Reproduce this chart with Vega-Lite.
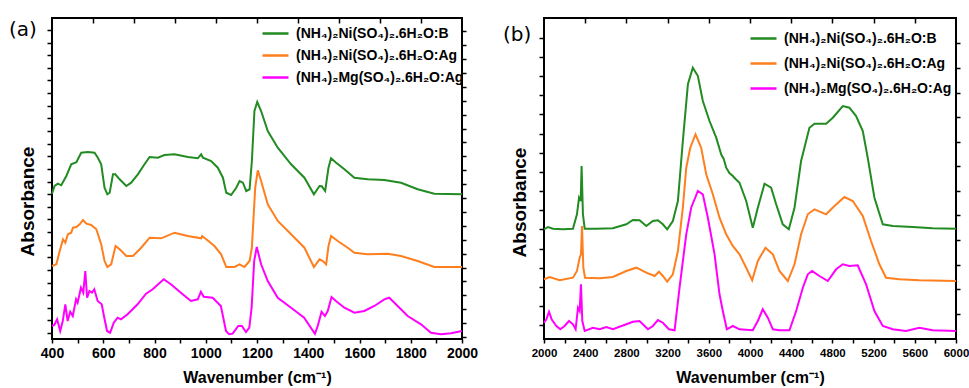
{
 "$schema": "https://vega.github.io/schema/vega-lite/v6.json",
 "background": "white",
 "padding": {"left": 8, "top": 16, "right": 4, "bottom": 0},
 "bounds": "flush",
 "spacing": 82,
 "config": {
  "view": {"stroke": "black", "strokeWidth": 2},
  "axis": {"grid": false, "domain": false, "tickColor": "black", "tickWidth": 1.5, "labelColor": "black", "titleColor": "black", "labelFont": "Liberation Sans", "labelFontWeight": "bold", "titleFont": "Liberation Sans", "titleFontWeight": "bold", "labelOverlap": false, "labelFlush": false},
  "legend": {"orient": "none", "title": null, "symbolType": "stroke", "symbolSize": 676, "symbolStrokeWidth": 2.5, "labelFontSize": 14, "labelFont": "Liberation Sans", "labelFontWeight": "bold", "labelColor": "black", "labelOffset": 6, "rowPadding": 0, "padding": 0, "labelLimit": 400}
 },
 "datasets": {
  "a": [
   {"s":"(NH₄)₂Ni(SO₄)₂.6H₂O:B","x":400,"y":1.453},{"s":"(NH₄)₂Ni(SO₄)₂.6H₂O:B","x":410,"y":1.53},{"s":"(NH₄)₂Ni(SO₄)₂.6H₂O:B","x":423,"y":1.553},{"s":"(NH₄)₂Ni(SO₄)₂.6H₂O:B","x":436,"y":1.537},{"s":"(NH₄)₂Ni(SO₄)₂.6H₂O:B","x":456,"y":1.63},{"s":"(NH₄)₂Ni(SO₄)₂.6H₂O:B","x":475,"y":1.747},{"s":"(NH₄)₂Ni(SO₄)₂.6H₂O:B","x":495,"y":1.767},{"s":"(NH₄)₂Ni(SO₄)₂.6H₂O:B","x":514,"y":1.863},{"s":"(NH₄)₂Ni(SO₄)₂.6H₂O:B","x":540,"y":1.87},{"s":"(NH₄)₂Ni(SO₄)₂.6H₂O:B","x":566,"y":1.863},{"s":"(NH₄)₂Ni(SO₄)₂.6H₂O:B","x":579,"y":1.813},{"s":"(NH₄)₂Ni(SO₄)₂.6H₂O:B","x":592,"y":1.747},{"s":"(NH₄)₂Ni(SO₄)₂.6H₂O:B","x":605,"y":1.513},{"s":"(NH₄)₂Ni(SO₄)₂.6H₂O:B","x":616,"y":1.447},{"s":"(NH₄)₂Ni(SO₄)₂.6H₂O:B","x":625,"y":1.463},{"s":"(NH₄)₂Ni(SO₄)₂.6H₂O:B","x":638,"y":1.647},{"s":"(NH₄)₂Ni(SO₄)₂.6H₂O:B","x":647,"y":1.647},{"s":"(NH₄)₂Ni(SO₄)₂.6H₂O:B","x":664,"y":1.597},{"s":"(NH₄)₂Ni(SO₄)₂.6H₂O:B","x":690,"y":1.53},{"s":"(NH₄)₂Ni(SO₄)₂.6H₂O:B","x":709,"y":1.563},{"s":"(NH₄)₂Ni(SO₄)₂.6H₂O:B","x":735,"y":1.647},{"s":"(NH₄)₂Ni(SO₄)₂.6H₂O:B","x":761,"y":1.747},{"s":"(NH₄)₂Ni(SO₄)₂.6H₂O:B","x":781,"y":1.82},{"s":"(NH₄)₂Ni(SO₄)₂.6H₂O:B","x":813,"y":1.813},{"s":"(NH₄)₂Ni(SO₄)₂.6H₂O:B","x":839,"y":1.84},{"s":"(NH₄)₂Ni(SO₄)₂.6H₂O:B","x":878,"y":1.847},{"s":"(NH₄)₂Ni(SO₄)₂.6H₂O:B","x":930,"y":1.82},{"s":"(NH₄)₂Ni(SO₄)₂.6H₂O:B","x":969,"y":1.807},{"s":"(NH₄)₂Ni(SO₄)₂.6H₂O:B","x":982,"y":1.847},{"s":"(NH₄)₂Ni(SO₄)₂.6H₂O:B","x":989,"y":1.813},{"s":"(NH₄)₂Ni(SO₄)₂.6H₂O:B","x":1021,"y":1.78},{"s":"(NH₄)₂Ni(SO₄)₂.6H₂O:B","x":1047,"y":1.713},{"s":"(NH₄)₂Ni(SO₄)₂.6H₂O:B","x":1067,"y":1.613},{"s":"(NH₄)₂Ni(SO₄)₂.6H₂O:B","x":1080,"y":1.463},{"s":"(NH₄)₂Ni(SO₄)₂.6H₂O:B","x":1099,"y":1.44},{"s":"(NH₄)₂Ni(SO₄)₂.6H₂O:B","x":1119,"y":1.513},{"s":"(NH₄)₂Ni(SO₄)₂.6H₂O:B","x":1132,"y":1.58},{"s":"(NH₄)₂Ni(SO₄)₂.6H₂O:B","x":1145,"y":1.563},{"s":"(NH₄)₂Ni(SO₄)₂.6H₂O:B","x":1158,"y":1.48},{"s":"(NH₄)₂Ni(SO₄)₂.6H₂O:B","x":1171,"y":1.497},{"s":"(NH₄)₂Ni(SO₄)₂.6H₂O:B","x":1180,"y":1.78},{"s":"(NH₄)₂Ni(SO₄)₂.6H₂O:B","x":1190,"y":2.28},{"s":"(NH₄)₂Ni(SO₄)₂.6H₂O:B","x":1201,"y":2.37},{"s":"(NH₄)₂Ni(SO₄)₂.6H₂O:B","x":1216,"y":2.28},{"s":"(NH₄)₂Ni(SO₄)₂.6H₂O:B","x":1242,"y":2.08},{"s":"(NH₄)₂Ni(SO₄)₂.6H₂O:B","x":1281,"y":1.913},{"s":"(NH₄)₂Ni(SO₄)₂.6H₂O:B","x":1333,"y":1.747},{"s":"(NH₄)₂Ni(SO₄)₂.6H₂O:B","x":1385,"y":1.613},{"s":"(NH₄)₂Ni(SO₄)₂.6H₂O:B","x":1422,"y":1.447},{"s":"(NH₄)₂Ni(SO₄)₂.6H₂O:B","x":1444,"y":1.53},{"s":"(NH₄)₂Ni(SO₄)₂.6H₂O:B","x":1453,"y":1.527},{"s":"(NH₄)₂Ni(SO₄)₂.6H₂O:B","x":1466,"y":1.48},{"s":"(NH₄)₂Ni(SO₄)₂.6H₂O:B","x":1479,"y":1.713},{"s":"(NH₄)₂Ni(SO₄)₂.6H₂O:B","x":1489,"y":1.807},{"s":"(NH₄)₂Ni(SO₄)₂.6H₂O:B","x":1509,"y":1.763},{"s":"(NH₄)₂Ni(SO₄)₂.6H₂O:B","x":1541,"y":1.697},{"s":"(NH₄)₂Ni(SO₄)₂.6H₂O:B","x":1580,"y":1.613},{"s":"(NH₄)₂Ni(SO₄)₂.6H₂O:B","x":1632,"y":1.597},{"s":"(NH₄)₂Ni(SO₄)₂.6H₂O:B","x":1697,"y":1.59},{"s":"(NH₄)₂Ni(SO₄)₂.6H₂O:B","x":1762,"y":1.563},{"s":"(NH₄)₂Ni(SO₄)₂.6H₂O:B","x":1827,"y":1.497},{"s":"(NH₄)₂Ni(SO₄)₂.6H₂O:B","x":1892,"y":1.453},{"s":"(NH₄)₂Ni(SO₄)₂.6H₂O:B","x":2000,"y":1.447},
   {"s":"(NH₄)₂Ni(SO₄)₂.6H₂O:Ag","x":400,"y":0.73},{"s":"(NH₄)₂Ni(SO₄)₂.6H₂O:Ag","x":417,"y":0.747},{"s":"(NH₄)₂Ni(SO₄)₂.6H₂O:Ag","x":430,"y":0.88},{"s":"(NH₄)₂Ni(SO₄)₂.6H₂O:Ag","x":443,"y":0.997},{"s":"(NH₄)₂Ni(SO₄)₂.6H₂O:Ag","x":452,"y":0.963},{"s":"(NH₄)₂Ni(SO₄)₂.6H₂O:Ag","x":462,"y":1.047},{"s":"(NH₄)₂Ni(SO₄)₂.6H₂O:Ag","x":475,"y":1.063},{"s":"(NH₄)₂Ni(SO₄)₂.6H₂O:Ag","x":482,"y":1.113},{"s":"(NH₄)₂Ni(SO₄)₂.6H₂O:Ag","x":495,"y":1.12},{"s":"(NH₄)₂Ni(SO₄)₂.6H₂O:Ag","x":508,"y":1.147},{"s":"(NH₄)₂Ni(SO₄)₂.6H₂O:Ag","x":521,"y":1.19},{"s":"(NH₄)₂Ni(SO₄)₂.6H₂O:Ag","x":534,"y":1.153},{"s":"(NH₄)₂Ni(SO₄)₂.6H₂O:Ag","x":553,"y":1.14},{"s":"(NH₄)₂Ni(SO₄)₂.6H₂O:Ag","x":573,"y":1.097},{"s":"(NH₄)₂Ni(SO₄)₂.6H₂O:Ag","x":592,"y":0.947},{"s":"(NH₄)₂Ni(SO₄)₂.6H₂O:Ag","x":605,"y":0.78},{"s":"(NH₄)₂Ni(SO₄)₂.6H₂O:Ag","x":616,"y":0.72},{"s":"(NH₄)₂Ni(SO₄)₂.6H₂O:Ag","x":631,"y":0.747},{"s":"(NH₄)₂Ni(SO₄)₂.6H₂O:Ag","x":648,"y":0.93},{"s":"(NH₄)₂Ni(SO₄)₂.6H₂O:Ag","x":664,"y":0.897},{"s":"(NH₄)₂Ni(SO₄)₂.6H₂O:Ag","x":690,"y":0.83},{"s":"(NH₄)₂Ni(SO₄)₂.6H₂O:Ag","x":716,"y":0.83},{"s":"(NH₄)₂Ni(SO₄)₂.6H₂O:Ag","x":748,"y":0.913},{"s":"(NH₄)₂Ni(SO₄)₂.6H₂O:Ag","x":781,"y":1.013},{"s":"(NH₄)₂Ni(SO₄)₂.6H₂O:Ag","x":826,"y":1.007},{"s":"(NH₄)₂Ni(SO₄)₂.6H₂O:Ag","x":878,"y":1.063},{"s":"(NH₄)₂Ni(SO₄)₂.6H₂O:Ag","x":930,"y":1.03},{"s":"(NH₄)₂Ni(SO₄)₂.6H₂O:Ag","x":982,"y":1.007},{"s":"(NH₄)₂Ni(SO₄)₂.6H₂O:Ag","x":986,"y":1.03},{"s":"(NH₄)₂Ni(SO₄)₂.6H₂O:Ag","x":1002,"y":0.997},{"s":"(NH₄)₂Ni(SO₄)₂.6H₂O:Ag","x":1034,"y":0.93},{"s":"(NH₄)₂Ni(SO₄)₂.6H₂O:Ag","x":1060,"y":0.847},{"s":"(NH₄)₂Ni(SO₄)₂.6H₂O:Ag","x":1080,"y":0.72},{"s":"(NH₄)₂Ni(SO₄)₂.6H₂O:Ag","x":1112,"y":0.72},{"s":"(NH₄)₂Ni(SO₄)₂.6H₂O:Ag","x":1132,"y":0.747},{"s":"(NH₄)₂Ni(SO₄)₂.6H₂O:Ag","x":1151,"y":0.72},{"s":"(NH₄)₂Ni(SO₄)₂.6H₂O:Ag","x":1171,"y":0.78},{"s":"(NH₄)₂Ni(SO₄)₂.6H₂O:Ag","x":1180,"y":0.913},{"s":"(NH₄)₂Ni(SO₄)₂.6H₂O:Ag","x":1193,"y":1.513},{"s":"(NH₄)₂Ni(SO₄)₂.6H₂O:Ag","x":1203,"y":1.687},{"s":"(NH₄)₂Ni(SO₄)₂.6H₂O:Ag","x":1216,"y":1.58},{"s":"(NH₄)₂Ni(SO₄)₂.6H₂O:Ag","x":1242,"y":1.347},{"s":"(NH₄)₂Ni(SO₄)₂.6H₂O:Ag","x":1281,"y":1.18},{"s":"(NH₄)₂Ni(SO₄)₂.6H₂O:Ag","x":1333,"y":1.047},{"s":"(NH₄)₂Ni(SO₄)₂.6H₂O:Ag","x":1385,"y":0.913},{"s":"(NH₄)₂Ni(SO₄)₂.6H₂O:Ag","x":1422,"y":0.72},{"s":"(NH₄)₂Ni(SO₄)₂.6H₂O:Ag","x":1444,"y":0.797},{"s":"(NH₄)₂Ni(SO₄)₂.6H₂O:Ag","x":1457,"y":0.78},{"s":"(NH₄)₂Ni(SO₄)₂.6H₂O:Ag","x":1470,"y":0.747},{"s":"(NH₄)₂Ni(SO₄)₂.6H₂O:Ag","x":1479,"y":0.93},{"s":"(NH₄)₂Ni(SO₄)₂.6H₂O:Ag","x":1489,"y":1.03},{"s":"(NH₄)₂Ni(SO₄)₂.6H₂O:Ag","x":1515,"y":0.98},{"s":"(NH₄)₂Ni(SO₄)₂.6H₂O:Ag","x":1554,"y":0.913},{"s":"(NH₄)₂Ni(SO₄)₂.6H₂O:Ag","x":1580,"y":0.863},{"s":"(NH₄)₂Ni(SO₄)₂.6H₂O:Ag","x":1632,"y":0.847},{"s":"(NH₄)₂Ni(SO₄)₂.6H₂O:Ag","x":1710,"y":0.853},{"s":"(NH₄)₂Ni(SO₄)₂.6H₂O:Ag","x":1762,"y":0.83},{"s":"(NH₄)₂Ni(SO₄)₂.6H₂O:Ag","x":1827,"y":0.78},{"s":"(NH₄)₂Ni(SO₄)₂.6H₂O:Ag","x":1892,"y":0.72},{"s":"(NH₄)₂Ni(SO₄)₂.6H₂O:Ag","x":2000,"y":0.72},
   {"s":"(NH₄)₂Mg(SO₄)₂.6H₂O:Ag","x":400,"y":0.13},{"s":"(NH₄)₂Mg(SO₄)₂.6H₂O:Ag","x":409,"y":0.14},{"s":"(NH₄)₂Mg(SO₄)₂.6H₂O:Ag","x":420,"y":0.197},{"s":"(NH₄)₂Mg(SO₄)₂.6H₂O:Ag","x":432,"y":0.08},{"s":"(NH₄)₂Mg(SO₄)₂.6H₂O:Ag","x":442,"y":0.18},{"s":"(NH₄)₂Mg(SO₄)₂.6H₂O:Ag","x":452,"y":0.347},{"s":"(NH₄)₂Mg(SO₄)₂.6H₂O:Ag","x":461,"y":0.18},{"s":"(NH₄)₂Mg(SO₄)₂.6H₂O:Ag","x":471,"y":0.273},{"s":"(NH₄)₂Mg(SO₄)₂.6H₂O:Ag","x":481,"y":0.23},{"s":"(NH₄)₂Mg(SO₄)₂.6H₂O:Ag","x":494,"y":0.397},{"s":"(NH₄)₂Mg(SO₄)₂.6H₂O:Ag","x":500,"y":0.363},{"s":"(NH₄)₂Mg(SO₄)₂.6H₂O:Ag","x":513,"y":0.513},{"s":"(NH₄)₂Mg(SO₄)₂.6H₂O:Ag","x":522,"y":0.463},{"s":"(NH₄)₂Mg(SO₄)₂.6H₂O:Ag","x":530,"y":0.68},{"s":"(NH₄)₂Mg(SO₄)₂.6H₂O:Ag","x":537,"y":0.413},{"s":"(NH₄)₂Mg(SO₄)₂.6H₂O:Ag","x":546,"y":0.48},{"s":"(NH₄)₂Mg(SO₄)₂.6H₂O:Ag","x":556,"y":0.463},{"s":"(NH₄)₂Mg(SO₄)₂.6H₂O:Ag","x":565,"y":0.497},{"s":"(NH₄)₂Mg(SO₄)₂.6H₂O:Ag","x":578,"y":0.38},{"s":"(NH₄)₂Mg(SO₄)₂.6H₂O:Ag","x":594,"y":0.347},{"s":"(NH₄)₂Mg(SO₄)₂.6H₂O:Ag","x":604,"y":0.213},{"s":"(NH₄)₂Mg(SO₄)₂.6H₂O:Ag","x":615,"y":0.08},{"s":"(NH₄)₂Mg(SO₄)₂.6H₂O:Ag","x":627,"y":0.063},{"s":"(NH₄)₂Mg(SO₄)₂.6H₂O:Ag","x":641,"y":0.163},{"s":"(NH₄)₂Mg(SO₄)₂.6H₂O:Ag","x":656,"y":0.213},{"s":"(NH₄)₂Mg(SO₄)₂.6H₂O:Ag","x":669,"y":0.197},{"s":"(NH₄)₂Mg(SO₄)₂.6H₂O:Ag","x":695,"y":0.247},{"s":"(NH₄)₂Mg(SO₄)₂.6H₂O:Ag","x":734,"y":0.347},{"s":"(NH₄)₂Mg(SO₄)₂.6H₂O:Ag","x":767,"y":0.453},{"s":"(NH₄)₂Mg(SO₄)₂.6H₂O:Ag","x":793,"y":0.497},{"s":"(NH₄)₂Mg(SO₄)₂.6H₂O:Ag","x":836,"y":0.597},{"s":"(NH₄)₂Mg(SO₄)₂.6H₂O:Ag","x":864,"y":0.547},{"s":"(NH₄)₂Mg(SO₄)₂.6H₂O:Ag","x":903,"y":0.463},{"s":"(NH₄)₂Mg(SO₄)₂.6H₂O:Ag","x":942,"y":0.38},{"s":"(NH₄)₂Mg(SO₄)₂.6H₂O:Ag","x":969,"y":0.397},{"s":"(NH₄)₂Mg(SO₄)₂.6H₂O:Ag","x":981,"y":0.473},{"s":"(NH₄)₂Mg(SO₄)₂.6H₂O:Ag","x":992,"y":0.423},{"s":"(NH₄)₂Mg(SO₄)₂.6H₂O:Ag","x":1027,"y":0.413},{"s":"(NH₄)₂Mg(SO₄)₂.6H₂O:Ag","x":1059,"y":0.33},{"s":"(NH₄)₂Mg(SO₄)₂.6H₂O:Ag","x":1079,"y":0.08},{"s":"(NH₄)₂Mg(SO₄)₂.6H₂O:Ag","x":1091,"y":0.047},{"s":"(NH₄)₂Mg(SO₄)₂.6H₂O:Ag","x":1105,"y":0.053},{"s":"(NH₄)₂Mg(SO₄)₂.6H₂O:Ag","x":1127,"y":0.13},{"s":"(NH₄)₂Mg(SO₄)₂.6H₂O:Ag","x":1141,"y":0.13},{"s":"(NH₄)₂Mg(SO₄)₂.6H₂O:Ag","x":1157,"y":0.07},{"s":"(NH₄)₂Mg(SO₄)₂.6H₂O:Ag","x":1170,"y":0.113},{"s":"(NH₄)₂Mg(SO₄)₂.6H₂O:Ag","x":1179,"y":0.313},{"s":"(NH₄)₂Mg(SO₄)₂.6H₂O:Ag","x":1189,"y":0.78},{"s":"(NH₄)₂Mg(SO₄)₂.6H₂O:Ag","x":1199,"y":0.92},{"s":"(NH₄)₂Mg(SO₄)₂.6H₂O:Ag","x":1216,"y":0.747},{"s":"(NH₄)₂Mg(SO₄)₂.6H₂O:Ag","x":1242,"y":0.58},{"s":"(NH₄)₂Mg(SO₄)₂.6H₂O:Ag","x":1281,"y":0.413},{"s":"(NH₄)₂Mg(SO₄)₂.6H₂O:Ag","x":1333,"y":0.313},{"s":"(NH₄)₂Mg(SO₄)₂.6H₂O:Ag","x":1384,"y":0.213},{"s":"(NH₄)₂Mg(SO₄)₂.6H₂O:Ag","x":1426,"y":0.053},{"s":"(NH₄)₂Mg(SO₄)₂.6H₂O:Ag","x":1437,"y":0.13},{"s":"(NH₄)₂Mg(SO₄)₂.6H₂O:Ag","x":1452,"y":0.273},{"s":"(NH₄)₂Mg(SO₄)₂.6H₂O:Ag","x":1465,"y":0.23},{"s":"(NH₄)₂Mg(SO₄)₂.6H₂O:Ag","x":1476,"y":0.28},{"s":"(NH₄)₂Mg(SO₄)₂.6H₂O:Ag","x":1491,"y":0.42},{"s":"(NH₄)₂Mg(SO₄)₂.6H₂O:Ag","x":1508,"y":0.38},{"s":"(NH₄)₂Mg(SO₄)₂.6H₂O:Ag","x":1541,"y":0.313},{"s":"(NH₄)₂Mg(SO₄)₂.6H₂O:Ag","x":1580,"y":0.263},{"s":"(NH₄)₂Mg(SO₄)₂.6H₂O:Ag","x":1619,"y":0.28},{"s":"(NH₄)₂Mg(SO₄)₂.6H₂O:Ag","x":1658,"y":0.33},{"s":"(NH₄)₂Mg(SO₄)₂.6H₂O:Ag","x":1697,"y":0.397},{"s":"(NH₄)₂Mg(SO₄)₂.6H₂O:Ag","x":1716,"y":0.413},{"s":"(NH₄)₂Mg(SO₄)₂.6H₂O:Ag","x":1736,"y":0.363},{"s":"(NH₄)₂Mg(SO₄)₂.6H₂O:Ag","x":1788,"y":0.23},{"s":"(NH₄)₂Mg(SO₄)₂.6H₂O:Ag","x":1840,"y":0.147},{"s":"(NH₄)₂Mg(SO₄)₂.6H₂O:Ag","x":1879,"y":0.063},{"s":"(NH₄)₂Mg(SO₄)₂.6H₂O:Ag","x":1918,"y":0.047},{"s":"(NH₄)₂Mg(SO₄)₂.6H₂O:Ag","x":1957,"y":0.057},{"s":"(NH₄)₂Mg(SO₄)₂.6H₂O:Ag","x":2000,"y":0.08}
  ],
  "b": [
   {"s":"(NH₄)₂Ni(SO₄)₂.6H₂O:B","x":2000,"y":1.097},{"s":"(NH₄)₂Ni(SO₄)₂.6H₂O:B","x":2039,"y":1.12},{"s":"(NH₄)₂Ni(SO₄)₂.6H₂O:B","x":2087,"y":1.103},{"s":"(NH₄)₂Ni(SO₄)₂.6H₂O:B","x":2184,"y":1.097},{"s":"(NH₄)₂Ni(SO₄)₂.6H₂O:B","x":2281,"y":1.103},{"s":"(NH₄)₂Ni(SO₄)₂.6H₂O:B","x":2320,"y":1.247},{"s":"(NH₄)₂Ni(SO₄)₂.6H₂O:B","x":2340,"y":1.413},{"s":"(NH₄)₂Ni(SO₄)₂.6H₂O:B","x":2356,"y":1.38},{"s":"(NH₄)₂Ni(SO₄)₂.6H₂O:B","x":2365,"y":1.73},{"s":"(NH₄)₂Ni(SO₄)₂.6H₂O:B","x":2378,"y":1.247},{"s":"(NH₄)₂Ni(SO₄)₂.6H₂O:B","x":2395,"y":1.103},{"s":"(NH₄)₂Ni(SO₄)₂.6H₂O:B","x":2508,"y":1.103},{"s":"(NH₄)₂Ni(SO₄)₂.6H₂O:B","x":2669,"y":1.107},{"s":"(NH₄)₂Ni(SO₄)₂.6H₂O:B","x":2799,"y":1.147},{"s":"(NH₄)₂Ni(SO₄)₂.6H₂O:B","x":2863,"y":1.19},{"s":"(NH₄)₂Ni(SO₄)₂.6H₂O:B","x":2928,"y":1.187},{"s":"(NH₄)₂Ni(SO₄)₂.6H₂O:B","x":2993,"y":1.13},{"s":"(NH₄)₂Ni(SO₄)₂.6H₂O:B","x":3057,"y":1.18},{"s":"(NH₄)₂Ni(SO₄)₂.6H₂O:B","x":3106,"y":1.187},{"s":"(NH₄)₂Ni(SO₄)₂.6H₂O:B","x":3154,"y":1.147},{"s":"(NH₄)₂Ni(SO₄)₂.6H₂O:B","x":3196,"y":1.097},{"s":"(NH₄)₂Ni(SO₄)₂.6H₂O:B","x":3251,"y":1.18},{"s":"(NH₄)₂Ni(SO₄)₂.6H₂O:B","x":3300,"y":1.38},{"s":"(NH₄)₂Ni(SO₄)₂.6H₂O:B","x":3348,"y":1.98},{"s":"(NH₄)₂Ni(SO₄)₂.6H₂O:B","x":3397,"y":2.547},{"s":"(NH₄)₂Ni(SO₄)₂.6H₂O:B","x":3445,"y":2.713},{"s":"(NH₄)₂Ni(SO₄)₂.6H₂O:B","x":3494,"y":2.63},{"s":"(NH₄)₂Ni(SO₄)₂.6H₂O:B","x":3542,"y":2.38},{"s":"(NH₄)₂Ni(SO₄)₂.6H₂O:B","x":3607,"y":2.18},{"s":"(NH₄)₂Ni(SO₄)₂.6H₂O:B","x":3672,"y":2.013},{"s":"(NH₄)₂Ni(SO₄)₂.6H₂O:B","x":3720,"y":1.847},{"s":"(NH₄)₂Ni(SO₄)₂.6H₂O:B","x":3745,"y":1.8},{"s":"(NH₄)₂Ni(SO₄)₂.6H₂O:B","x":3769,"y":1.713},{"s":"(NH₄)₂Ni(SO₄)₂.6H₂O:B","x":3800,"y":1.66},{"s":"(NH₄)₂Ni(SO₄)₂.6H₂O:B","x":3833,"y":1.63},{"s":"(NH₄)₂Ni(SO₄)₂.6H₂O:B","x":3860,"y":1.6},{"s":"(NH₄)₂Ni(SO₄)₂.6H₂O:B","x":3898,"y":1.563},{"s":"(NH₄)₂Ni(SO₄)₂.6H₂O:B","x":3963,"y":1.38},{"s":"(NH₄)₂Ni(SO₄)₂.6H₂O:B","x":4027,"y":1.113},{"s":"(NH₄)₂Ni(SO₄)₂.6H₂O:B","x":4076,"y":1.313},{"s":"(NH₄)₂Ni(SO₄)₂.6H₂O:B","x":4141,"y":1.553},{"s":"(NH₄)₂Ni(SO₄)₂.6H₂O:B","x":4205,"y":1.513},{"s":"(NH₄)₂Ni(SO₄)₂.6H₂O:B","x":4254,"y":1.347},{"s":"(NH₄)₂Ni(SO₄)₂.6H₂O:B","x":4318,"y":1.147},{"s":"(NH₄)₂Ni(SO₄)₂.6H₂O:B","x":4377,"y":1.097},{"s":"(NH₄)₂Ni(SO₄)₂.6H₂O:B","x":4432,"y":1.313},{"s":"(NH₄)₂Ni(SO₄)₂.6H₂O:B","x":4496,"y":1.78},{"s":"(NH₄)₂Ni(SO₄)₂.6H₂O:B","x":4577,"y":2.113},{"s":"(NH₄)₂Ni(SO₄)₂.6H₂O:B","x":4626,"y":2.153},{"s":"(NH₄)₂Ni(SO₄)₂.6H₂O:B","x":4739,"y":2.153},{"s":"(NH₄)₂Ni(SO₄)₂.6H₂O:B","x":4804,"y":2.213},{"s":"(NH₄)₂Ni(SO₄)₂.6H₂O:B","x":4901,"y":2.33},{"s":"(NH₄)₂Ni(SO₄)₂.6H₂O:B","x":4965,"y":2.313},{"s":"(NH₄)₂Ni(SO₄)₂.6H₂O:B","x":5030,"y":2.23},{"s":"(NH₄)₂Ni(SO₄)₂.6H₂O:B","x":5095,"y":2.08},{"s":"(NH₄)₂Ni(SO₄)₂.6H₂O:B","x":5143,"y":1.813},{"s":"(NH₄)₂Ni(SO₄)₂.6H₂O:B","x":5208,"y":1.413},{"s":"(NH₄)₂Ni(SO₄)₂.6H₂O:B","x":5289,"y":1.147},{"s":"(NH₄)₂Ni(SO₄)₂.6H₂O:B","x":5386,"y":1.13},{"s":"(NH₄)₂Ni(SO₄)₂.6H₂O:B","x":5580,"y":1.12},{"s":"(NH₄)₂Ni(SO₄)₂.6H₂O:B","x":5774,"y":1.107},{"s":"(NH₄)₂Ni(SO₄)₂.6H₂O:B","x":6000,"y":1.103},
   {"s":"(NH₄)₂Ni(SO₄)₂.6H₂O:Ag","x":2000,"y":0.597},{"s":"(NH₄)₂Ni(SO₄)₂.6H₂O:Ag","x":2055,"y":0.62},{"s":"(NH₄)₂Ni(SO₄)₂.6H₂O:Ag","x":2152,"y":0.587},{"s":"(NH₄)₂Ni(SO₄)₂.6H₂O:Ag","x":2281,"y":0.613},{"s":"(NH₄)₂Ni(SO₄)₂.6H₂O:Ag","x":2320,"y":0.68},{"s":"(NH₄)₂Ni(SO₄)₂.6H₂O:Ag","x":2346,"y":0.813},{"s":"(NH₄)₂Ni(SO₄)₂.6H₂O:Ag","x":2359,"y":0.847},{"s":"(NH₄)₂Ni(SO₄)₂.6H₂O:Ag","x":2369,"y":1.13},{"s":"(NH₄)₂Ni(SO₄)₂.6H₂O:Ag","x":2382,"y":0.713},{"s":"(NH₄)₂Ni(SO₄)₂.6H₂O:Ag","x":2398,"y":0.613},{"s":"(NH₄)₂Ni(SO₄)₂.6H₂O:Ag","x":2540,"y":0.607},{"s":"(NH₄)₂Ni(SO₄)₂.6H₂O:Ag","x":2669,"y":0.62},{"s":"(NH₄)₂Ni(SO₄)₂.6H₂O:Ag","x":2799,"y":0.68},{"s":"(NH₄)₂Ni(SO₄)₂.6H₂O:Ag","x":2896,"y":0.713},{"s":"(NH₄)₂Ni(SO₄)₂.6H₂O:Ag","x":2993,"y":0.663},{"s":"(NH₄)₂Ni(SO₄)₂.6H₂O:Ag","x":3074,"y":0.63},{"s":"(NH₄)₂Ni(SO₄)₂.6H₂O:Ag","x":3116,"y":0.673},{"s":"(NH₄)₂Ni(SO₄)₂.6H₂O:Ag","x":3154,"y":0.63},{"s":"(NH₄)₂Ni(SO₄)₂.6H₂O:Ag","x":3196,"y":0.573},{"s":"(NH₄)₂Ni(SO₄)₂.6H₂O:Ag","x":3251,"y":0.647},{"s":"(NH₄)₂Ni(SO₄)₂.6H₂O:Ag","x":3300,"y":0.88},{"s":"(NH₄)₂Ni(SO₄)₂.6H₂O:Ag","x":3348,"y":1.313},{"s":"(NH₄)₂Ni(SO₄)₂.6H₂O:Ag","x":3381,"y":1.713},{"s":"(NH₄)₂Ni(SO₄)₂.6H₂O:Ag","x":3420,"y":1.913},{"s":"(NH₄)₂Ni(SO₄)₂.6H₂O:Ag","x":3471,"y":2.047},{"s":"(NH₄)₂Ni(SO₄)₂.6H₂O:Ag","x":3526,"y":1.913},{"s":"(NH₄)₂Ni(SO₄)₂.6H₂O:Ag","x":3575,"y":1.647},{"s":"(NH₄)₂Ni(SO₄)₂.6H₂O:Ag","x":3639,"y":1.447},{"s":"(NH₄)₂Ni(SO₄)₂.6H₂O:Ag","x":3704,"y":1.213},{"s":"(NH₄)₂Ni(SO₄)₂.6H₂O:Ag","x":3769,"y":1.047},{"s":"(NH₄)₂Ni(SO₄)₂.6H₂O:Ag","x":3833,"y":0.93},{"s":"(NH₄)₂Ni(SO₄)₂.6H₂O:Ag","x":3898,"y":0.847},{"s":"(NH₄)₂Ni(SO₄)₂.6H₂O:Ag","x":3963,"y":0.713},{"s":"(NH₄)₂Ni(SO₄)₂.6H₂O:Ag","x":4021,"y":0.587},{"s":"(NH₄)₂Ni(SO₄)₂.6H₂O:Ag","x":4076,"y":0.78},{"s":"(NH₄)₂Ni(SO₄)₂.6H₂O:Ag","x":4150,"y":0.913},{"s":"(NH₄)₂Ni(SO₄)₂.6H₂O:Ag","x":4222,"y":0.847},{"s":"(NH₄)₂Ni(SO₄)₂.6H₂O:Ag","x":4286,"y":0.68},{"s":"(NH₄)₂Ni(SO₄)₂.6H₂O:Ag","x":4367,"y":0.58},{"s":"(NH₄)₂Ni(SO₄)₂.6H₂O:Ag","x":4432,"y":0.747},{"s":"(NH₄)₂Ni(SO₄)₂.6H₂O:Ag","x":4496,"y":1.047},{"s":"(NH₄)₂Ni(SO₄)₂.6H₂O:Ag","x":4561,"y":1.247},{"s":"(NH₄)₂Ni(SO₄)₂.6H₂O:Ag","x":4626,"y":1.297},{"s":"(NH₄)₂Ni(SO₄)₂.6H₂O:Ag","x":4739,"y":1.247},{"s":"(NH₄)₂Ni(SO₄)₂.6H₂O:Ag","x":4820,"y":1.33},{"s":"(NH₄)₂Ni(SO₄)₂.6H₂O:Ag","x":4917,"y":1.42},{"s":"(NH₄)₂Ni(SO₄)₂.6H₂O:Ag","x":4998,"y":1.38},{"s":"(NH₄)₂Ni(SO₄)₂.6H₂O:Ag","x":5095,"y":1.23},{"s":"(NH₄)₂Ni(SO₄)₂.6H₂O:Ag","x":5175,"y":0.98},{"s":"(NH₄)₂Ni(SO₄)₂.6H₂O:Ag","x":5256,"y":0.747},{"s":"(NH₄)₂Ni(SO₄)₂.6H₂O:Ag","x":5321,"y":0.613},{"s":"(NH₄)₂Ni(SO₄)₂.6H₂O:Ag","x":5450,"y":0.597},{"s":"(NH₄)₂Ni(SO₄)₂.6H₂O:Ag","x":5644,"y":0.587},{"s":"(NH₄)₂Ni(SO₄)₂.6H₂O:Ag","x":6000,"y":0.58},
   {"s":"(NH₄)₂Mg(SO₄)₂.6H₂O:Ag","x":2000,"y":0.163},{"s":"(NH₄)₂Mg(SO₄)₂.6H₂O:Ag","x":2023,"y":0.197},{"s":"(NH₄)₂Mg(SO₄)₂.6H₂O:Ag","x":2049,"y":0.273},{"s":"(NH₄)₂Mg(SO₄)₂.6H₂O:Ag","x":2074,"y":0.197},{"s":"(NH₄)₂Mg(SO₄)₂.6H₂O:Ag","x":2120,"y":0.13},{"s":"(NH₄)₂Mg(SO₄)₂.6H₂O:Ag","x":2158,"y":0.097},{"s":"(NH₄)₂Mg(SO₄)₂.6H₂O:Ag","x":2200,"y":0.13},{"s":"(NH₄)₂Mg(SO₄)₂.6H₂O:Ag","x":2243,"y":0.18},{"s":"(NH₄)₂Mg(SO₄)₂.6H₂O:Ag","x":2281,"y":0.147},{"s":"(NH₄)₂Mg(SO₄)₂.6H₂O:Ag","x":2307,"y":0.097},{"s":"(NH₄)₂Mg(SO₄)₂.6H₂O:Ag","x":2330,"y":0.313},{"s":"(NH₄)₂Mg(SO₄)₂.6H₂O:Ag","x":2346,"y":0.28},{"s":"(NH₄)₂Mg(SO₄)₂.6H₂O:Ag","x":2359,"y":0.547},{"s":"(NH₄)₂Mg(SO₄)₂.6H₂O:Ag","x":2372,"y":0.18},{"s":"(NH₄)₂Mg(SO₄)₂.6H₂O:Ag","x":2395,"y":0.08},{"s":"(NH₄)₂Mg(SO₄)₂.6H₂O:Ag","x":2475,"y":0.113},{"s":"(NH₄)₂Mg(SO₄)₂.6H₂O:Ag","x":2540,"y":0.097},{"s":"(NH₄)₂Mg(SO₄)₂.6H₂O:Ag","x":2605,"y":0.12},{"s":"(NH₄)₂Mg(SO₄)₂.6H₂O:Ag","x":2669,"y":0.097},{"s":"(NH₄)₂Mg(SO₄)₂.6H₂O:Ag","x":2799,"y":0.147},{"s":"(NH₄)₂Mg(SO₄)₂.6H₂O:Ag","x":2863,"y":0.173},{"s":"(NH₄)₂Mg(SO₄)₂.6H₂O:Ag","x":2928,"y":0.18},{"s":"(NH₄)₂Mg(SO₄)₂.6H₂O:Ag","x":3009,"y":0.097},{"s":"(NH₄)₂Mg(SO₄)₂.6H₂O:Ag","x":3057,"y":0.13},{"s":"(NH₄)₂Mg(SO₄)₂.6H₂O:Ag","x":3106,"y":0.19},{"s":"(NH₄)₂Mg(SO₄)₂.6H₂O:Ag","x":3154,"y":0.163},{"s":"(NH₄)₂Mg(SO₄)₂.6H₂O:Ag","x":3213,"y":0.097},{"s":"(NH₄)₂Mg(SO₄)₂.6H₂O:Ag","x":3268,"y":0.087},{"s":"(NH₄)₂Mg(SO₄)₂.6H₂O:Ag","x":3316,"y":0.513},{"s":"(NH₄)₂Mg(SO₄)₂.6H₂O:Ag","x":3381,"y":1.047},{"s":"(NH₄)₂Mg(SO₄)₂.6H₂O:Ag","x":3429,"y":1.313},{"s":"(NH₄)₂Mg(SO₄)₂.6H₂O:Ag","x":3494,"y":1.48},{"s":"(NH₄)₂Mg(SO₄)₂.6H₂O:Ag","x":3542,"y":1.447},{"s":"(NH₄)₂Mg(SO₄)₂.6H₂O:Ag","x":3591,"y":1.213},{"s":"(NH₄)₂Mg(SO₄)₂.6H₂O:Ag","x":3656,"y":0.847},{"s":"(NH₄)₂Mg(SO₄)₂.6H₂O:Ag","x":3704,"y":0.447},{"s":"(NH₄)₂Mg(SO₄)₂.6H₂O:Ag","x":3736,"y":0.28},{"s":"(NH₄)₂Mg(SO₄)₂.6H₂O:Ag","x":3775,"y":0.097},{"s":"(NH₄)₂Mg(SO₄)₂.6H₂O:Ag","x":3833,"y":0.13},{"s":"(NH₄)₂Mg(SO₄)₂.6H₂O:Ag","x":3898,"y":0.097},{"s":"(NH₄)₂Mg(SO₄)₂.6H₂O:Ag","x":4027,"y":0.087},{"s":"(NH₄)₂Mg(SO₄)₂.6H₂O:Ag","x":4076,"y":0.18},{"s":"(NH₄)₂Mg(SO₄)₂.6H₂O:Ag","x":4124,"y":0.297},{"s":"(NH₄)₂Mg(SO₄)₂.6H₂O:Ag","x":4173,"y":0.213},{"s":"(NH₄)₂Mg(SO₄)₂.6H₂O:Ag","x":4222,"y":0.097},{"s":"(NH₄)₂Mg(SO₄)₂.6H₂O:Ag","x":4286,"y":0.087},{"s":"(NH₄)₂Mg(SO₄)₂.6H₂O:Ag","x":4383,"y":0.087},{"s":"(NH₄)₂Mg(SO₄)₂.6H₂O:Ag","x":4448,"y":0.28},{"s":"(NH₄)₂Mg(SO₄)₂.6H₂O:Ag","x":4513,"y":0.513},{"s":"(NH₄)₂Mg(SO₄)₂.6H₂O:Ag","x":4561,"y":0.647},{"s":"(NH₄)₂Mg(SO₄)₂.6H₂O:Ag","x":4603,"y":0.68},{"s":"(NH₄)₂Mg(SO₄)₂.6H₂O:Ag","x":4674,"y":0.63},{"s":"(NH₄)₂Mg(SO₄)₂.6H₂O:Ag","x":4755,"y":0.58},{"s":"(NH₄)₂Mg(SO₄)₂.6H₂O:Ag","x":4836,"y":0.697},{"s":"(NH₄)₂Mg(SO₄)₂.6H₂O:Ag","x":4901,"y":0.747},{"s":"(NH₄)₂Mg(SO₄)₂.6H₂O:Ag","x":4965,"y":0.73},{"s":"(NH₄)₂Mg(SO₄)₂.6H₂O:Ag","x":5046,"y":0.737},{"s":"(NH₄)₂Mg(SO₄)₂.6H₂O:Ag","x":5127,"y":0.547},{"s":"(NH₄)₂Mg(SO₄)₂.6H₂O:Ag","x":5208,"y":0.28},{"s":"(NH₄)₂Mg(SO₄)₂.6H₂O:Ag","x":5289,"y":0.13},{"s":"(NH₄)₂Mg(SO₄)₂.6H₂O:Ag","x":5386,"y":0.097},{"s":"(NH₄)₂Mg(SO₄)₂.6H₂O:Ag","x":5515,"y":0.08},{"s":"(NH₄)₂Mg(SO₄)₂.6H₂O:Ag","x":5644,"y":0.113},{"s":"(NH₄)₂Mg(SO₄)₂.6H₂O:Ag","x":5774,"y":0.087},{"s":"(NH₄)₂Mg(SO₄)₂.6H₂O:Ag","x":6000,"y":0.08}
  ]
 },
 "hconcat": [
  {
   "width": 410, "height": 321,
   "title": {"text": "(a)", "anchor": "start", "frame": "group", "orient": "top", "offset": 0, "dx": -43, "dy": 33, "baseline": "middle", "fontSize": 20, "font": "DejaVu Sans", "fontWeight": "normal", "color": "black"},
   "data": {"name": "a"},
   "layer": [
    {
     "mark": {"type": "line", "strokeWidth": 2},
     "encoding": {
      "x": {"field": "x", "type": "quantitative", "scale": {"domain": [400, 2000], "nice": false, "zero": false},
            "axis": {"orient": "bottom", "values": [400,500,600,700,800,900,1000,1100,1200,1300,1400,1500,1600,1700,1800,1900,2000], "format": "d", "labelExpr": "datum.value % 200 == 0 ? datum.label : ''", "tickSize": 4, "labelFontSize": 14, "labelPadding": 3, "title": "Wavenumber (cm⁻¹)", "titleFontSize": 16, "titlePadding": 9}},
      "y": {"field": "y", "type": "quantitative", "scale": {"domain": [0, 3.21], "nice": false, "zero": false},
            "axis": {"orient": "left", "values": [0.06,0.186,0.313,0.439,0.565,0.691,0.818,0.944,1.07,1.196,1.323,1.449,1.575,1.701,1.828,1.954,2.08,2.206,2.333,2.459,2.585,2.711,2.838,2.964,3.09], "labels": false, "tickSize": 5, "title": "Absorbance", "titleFontSize": 19, "titlePadding": 9, "titleY": 183}},
      "color": {"field": "s", "type": "nominal",
                "scale": {"domain": ["(NH₄)₂Ni(SO₄)₂.6H₂O:B", "(NH₄)₂Ni(SO₄)₂.6H₂O:Ag", "(NH₄)₂Mg(SO₄)₂.6H₂O:Ag"], "range": ["#228B22", "#FF7F1E", "#FF00FF"]},
                "legend": {"orient": "none", "legendX": 209, "legendY": 1}}
     }
    },
    {
     "mark": {"type": "point", "opacity": 0},
     "encoding": {
      "x": {"field": "x", "type": "quantitative", "scale": {"domain": [400, 2000], "nice": false, "zero": false},
            "axis": {"orient": "top", "values": [560,720,880,1040,1200,1360,1520,1680,1840], "labels": false, "tickSize": -5, "title": null}},
      "y": {"field": "y", "type": "quantitative", "scale": {"domain": [0, 3.21], "nice": false, "zero": false},
            "axis": {"orient": "right", "values": [0.02,0.159,0.298,0.437,0.576,0.715,0.854,0.993,1.132,1.271,1.41,1.549,1.688,1.827,1.966,2.105,2.244,2.383,2.522,2.661,2.8,2.939,3.078], "labels": false, "tickSize": 4, "title": null}}
     }
    }
   ],
   "resolve": {"axis": {"x": "independent", "y": "independent"}}
  },
  {
   "width": 412, "height": 321,
   "title": {"text": "(b)", "anchor": "start", "frame": "group", "orient": "top", "offset": 0, "dx": -41, "dy": 38, "baseline": "middle", "fontSize": 20, "font": "DejaVu Sans", "fontWeight": "normal", "color": "black"},
   "data": {"name": "b"},
   "layer": [
    {
     "mark": {"type": "line", "strokeWidth": 2},
     "encoding": {
      "x": {"field": "x", "type": "quantitative", "scale": {"domain": [2000, 6000], "nice": false, "zero": false},
            "axis": {"orient": "bottom", "values": [2000,2200,2400,2600,2800,3000,3200,3400,3600,3800,4000,4200,4400,4600,4800,5000,5200,5400,5600,5800,6000], "format": "d", "labelExpr": "datum.value % 400 == 0 ? datum.label : ''", "tickSize": 4, "labelFontSize": 11.5, "labelPadding": 4, "title": "Wavenumber (cm⁻¹)", "titleFontSize": 16, "titlePadding": 11}},
      "y": {"field": "y", "type": "quantitative", "scale": {"domain": [0, 3.21], "nice": false, "zero": false},
            "axis": {"orient": "left", "values": [0.138,0.33,0.521,0.713,0.905,1.096,1.288,1.48,1.671,1.863,2.055,2.246,2.438,2.63,2.821,3.013], "labels": false, "tickSize": 5, "title": "Absorbance", "titleFontSize": 19, "titlePadding": 9, "titleY": 184}},
      "color": {"field": "s", "type": "nominal",
                "scale": {"domain": ["(NH₄)₂Ni(SO₄)₂.6H₂O:B", "(NH₄)₂Ni(SO₄)₂.6H₂O:Ag", "(NH₄)₂Mg(SO₄)₂.6H₂O:Ag"], "range": ["#228B22", "#FF7F1E", "#FF00FF"]},
                "legend": {"orient": "none", "legendX": 205, "legendY": 6, "rowPadding": 3}}
     }
    },
    {
     "mark": {"type": "point", "opacity": 0},
     "encoding": {
      "x": {"field": "x", "type": "quantitative", "scale": {"domain": [2000, 6000], "nice": false, "zero": false},
            "axis": {"orient": "top", "values": [2400,2800,3200,3600,4000,4400,4800,5200,5600], "labels": false, "tickSize": -5, "title": null}},
      "y": {"field": "y", "type": "quantitative", "scale": {"domain": [0, 3.21], "nice": false, "zero": false},
            "axis": {"orient": "right", "values": [0.251,0.497,0.743,0.989,1.235,1.481,1.727,1.973,2.219,2.465,2.711,2.957], "labels": false, "tickSize": 4, "title": null}}
     }
    }
   ],
   "resolve": {"axis": {"x": "independent", "y": "independent"}}
  }
 ],
 "resolve": {"scale": {"color": "independent"}, "legend": {"color": "independent"}}
}
